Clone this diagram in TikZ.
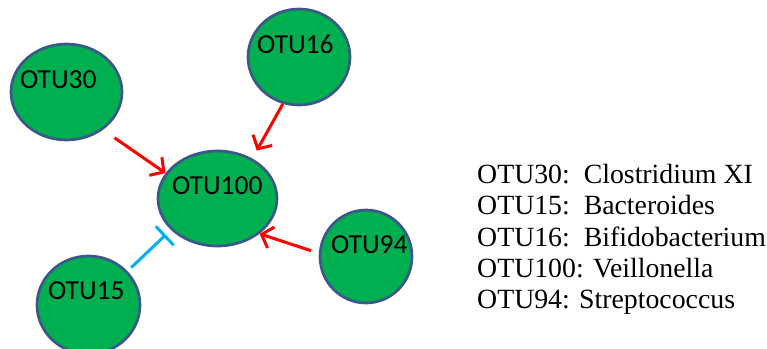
\documentclass[tikz,border=0pt]{standalone}
\usepackage{fontspec}
\setmainfont{Liberation Serif}
\newfontfamily\calfont{Carlito}
\usetikzlibrary{shapes.geometric,arrows.meta}
\definecolor{otugreen}{RGB}{0,176,80}
\definecolor{otuborder}{RGB}{60,88,138}
\definecolor{inhib}{RGB}{0,176,240}
\tikzset{
  otu/.style={ellipse, draw=otuborder, fill=otugreen, line width=2.7pt, inner sep=0pt},
  otulabel/.style={anchor=base west, inner sep=0pt, font=\calfont\fontsize{27.5}{30}\selectfont},
  legend/.style={anchor=base west, inner sep=0pt, font=\fontsize{27.8}{31}\selectfont},
  activ/.style={draw=red, line width=3pt, -{Straight Barb[length=10pt,width=22pt,line width=3pt]}},
  inhibit/.style={draw=inhib, line width=3pt, -{Bar[width=26pt,line width=3pt]}}
}
\begin{document}
\begin{tikzpicture}[x=1pt,y=-1pt]
\useasboundingbox (0,0) rectangle (767,348);
% ellipses
\node[otu, minimum width=111pt, minimum height=96pt] (otu30) at (66.5,92) {};
\node[otu, minimum width=102pt, minimum height=96pt] (otu16) at (299,57) {};
\node[otu, minimum width=119pt, minimum height=95pt] (otu100) at (217.5,198.5) {};
\node[otu, minimum width=92pt, minimum height=93pt] (otu94) at (366,256.5) {};
\node[otu, minimum width=103pt, minimum height=98pt] (otu15) at (88.5,305) {};
% labels
\node[otulabel] (t30) at (20,88) {OTU30};
\node[otulabel] (t16) at (257,53) {OTU16};
\node[otulabel] (t100) at (172,194) {OTU100};
\node[otulabel] (t94) at (331,253) {OTU94};
\node[otulabel] (t15) at (48,299) {OTU15};
% connectors
\draw[activ, shorten <=14pt] (otu30.-46) -- (otu100.154);
\draw[activ, shorten >=9pt] (otu16.-109.5) -- (otu100.49);
\draw[activ, shorten <=8pt] (otu94.176) -- (otu100.-40.4);
\draw[inhibit, shorten <=5pt, shorten >=7pt] (otu15.41.7) -- (otu100.-146);
% legend
\node[legend] (l1) at (477,183) {OTU30:\hspace{0.5em}Clostridium XI};
\node[legend] (l2) at (477,214) {OTU15:\hspace{0.5em}Bacteroides};
\node[legend] (l3) at (477,246) {OTU16:\hspace{0.5em}Bifidobacterium};
\node[legend] (l4) at (477,277) {OTU100: Veillonella};
\node[legend] (l5) at (477,308) {OTU94: Streptococcus};
\end{tikzpicture}
\end{document}
